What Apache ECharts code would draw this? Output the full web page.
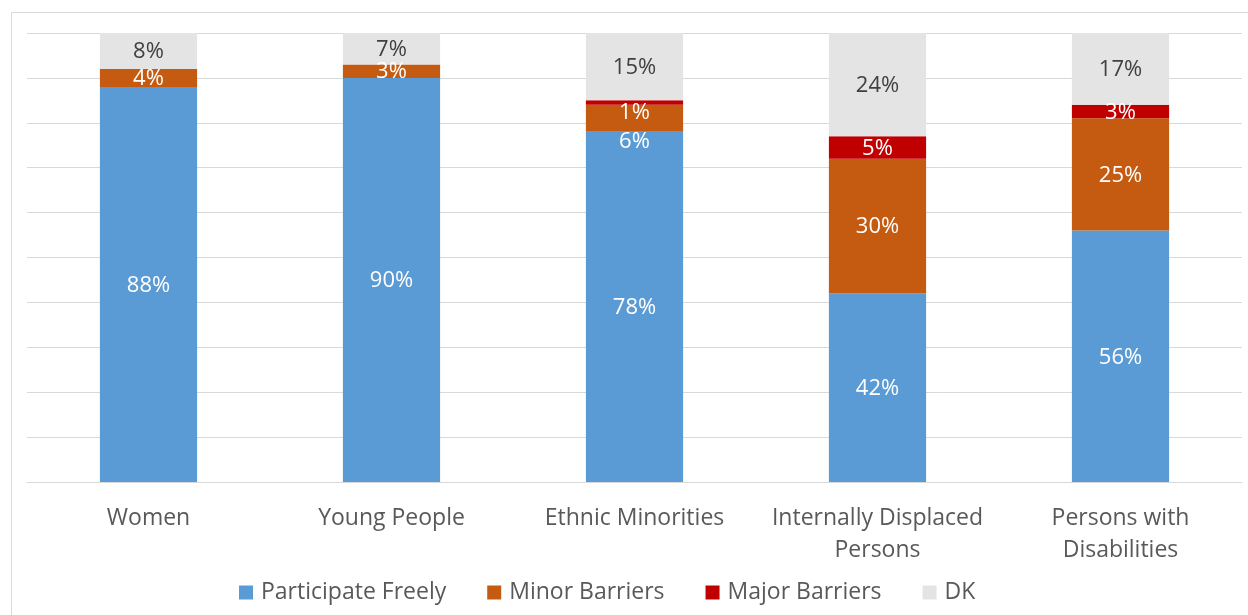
<!DOCTYPE html>
<html>
<head>
<meta charset="utf-8">
<script src="https://cdn.jsdelivr.net/npm/echarts@6/dist/echarts.min.js"></script>
<style>html,body{margin:0;padding:0;background:#fff}#c{width:1248px;height:615px}</style>
</head>
<body>
<div id="c"></div>
<script>
const categories = ['Women', 'Young People', 'Ethnic Minorities', 'Internally Displaced\nPersons', 'Persons with\nDisabilities'];
const seriesNames = ['Participate Freely', 'Minor Barriers', 'Major Barriers', 'DK'];
const participateFreely = [88, 90, 78, 42, 56];
const minorBarriers = [4, 3, 6, 30, 25];
const majorBarriers = [0, 0, 1, 5, 3];
const dk = [8, 7, 15, 24, 17];

const colors = ['#5B9BD5', '#C55A11', '#C00000', '#E4E4E4'];
const labelColors = ['#ffffff', '#ffffff', '#ffffff', '#404040'];
const font = '"Open Sans", "Noto Sans", sans-serif';
const allValues = [participateFreely, minorBarriers, majorBarriers, dk];
// label nudges used by the original to avoid overlaps (Ethnic Minorities)
const labelOffsets = [{}, {2: [0, 22]}, {2: [0, 9]}, {}];

const chart = echarts.init(document.getElementById('c'));
chart.setOption({
  animation: false,
  graphic: [{
    type: 'rect', shape: {x: 11.5, y: 12.5, width: 1300, height: 700},
    style: {fill: 'none', stroke: '#D9D9D9', lineWidth: 1}, silent: true
  }],
  grid: {left: 27, right: 6, top: 33, bottom: 133},
  legend: {
    bottom: 6, left: 234, itemWidth: 14, itemHeight: 14, itemGap: 41,
    icon: 'rect',
    textStyle: {color: '#595959', fontSize: 23, fontFamily: font, padding: [0, 0, 0, 3]},
    data: seriesNames
  },
  xAxis: {
    type: 'category', data: categories,
    axisLine: {lineStyle: {color: '#D9D9D9', width: 1}},
    axisTick: {show: false},
    axisLabel: {color: '#595959', fontSize: 23, fontFamily: font, margin: 20, lineHeight: 32, interval: 0}
  },
  yAxis: {
    type: 'value', min: 0, max: 100, interval: 10,
    axisLabel: {show: false}, axisLine: {show: false}, axisTick: {show: false},
    splitLine: {lineStyle: {color: '#D9D9D9', width: 1}}
  },
  series: seriesNames.map((name, i) => ({
    name, type: 'bar', stack: 'total', barWidth: '40%',
    itemStyle: {color: colors[i]},
    label: {
      show: true, position: 'inside', color: labelColors[i], fontSize: 22, fontFamily: font,
      offset: [0, 1],
      formatter: p => p.value > 0 ? p.value + '%' : ''
    },
    data: allValues[i].map((v, j) => labelOffsets[i][j] ? {value: v, label: {offset: [labelOffsets[i][j][0], labelOffsets[i][j][1] + 1]}} : v)
  }))
});
</script>
</body>
</html>
